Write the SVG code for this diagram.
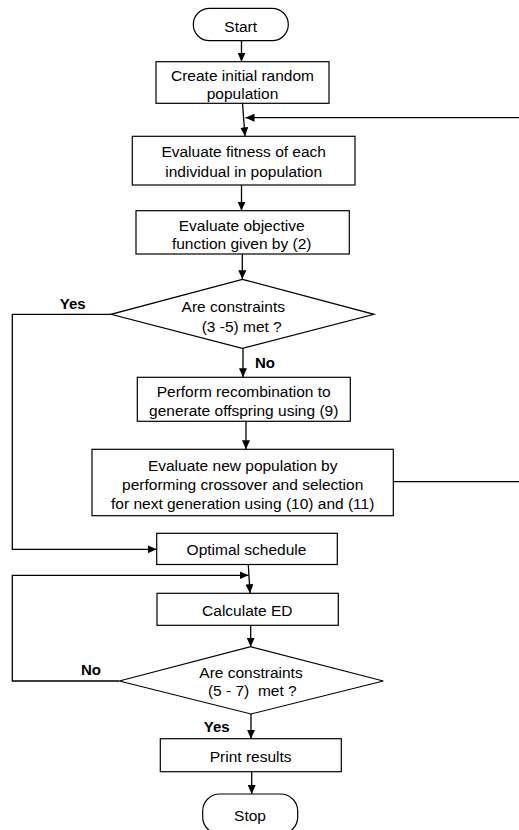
<svg xmlns="http://www.w3.org/2000/svg" width="519" height="830" viewBox="0 0 519 830">
<defs>
<style>
.box{fill:#fff;stroke:#000;stroke-width:1.2}
.t{font-family:"Liberation Sans",Arial,sans-serif;font-size:15.5px;fill:#000;text-anchor:middle}
.lb{font-family:"Liberation Sans",Arial,sans-serif;font-size:15px;font-weight:bold;fill:#000;text-anchor:middle}
.c{fill:none;stroke:#000;stroke-width:1.3}
</style>
<marker id="ah" markerUnits="userSpaceOnUse" markerWidth="10" markerHeight="8" refX="9" refY="4" orient="auto">
<path d="M0,0 L9,4 L0,8 Z" fill="#000"/>
</marker>
</defs>
<rect width="519" height="830" fill="#fff"/>
<g id="connectors">
<line class="c" x1="241.5" y1="40.7" x2="241.5" y2="61.7" marker-end="url(#ah)"/>
<line class="c" x1="242.5" y1="103.3" x2="245" y2="136.3" marker-end="url(#ah)"/>
<path class="c" d="M393.3,481.7 H521 V117.7 H245.5" marker-end="url(#ah)"/>
<line class="c" x1="241.5" y1="185" x2="241.5" y2="210.7" marker-end="url(#ah)"/>
<line class="c" x1="242.3" y1="254" x2="242.3" y2="279.3" marker-end="url(#ah)"/>
<line class="c" x1="243" y1="348.3" x2="243" y2="377.3" marker-end="url(#ah)"/>
<path class="c" d="M111,314.3 H12.3 V549.3 H156.7" marker-end="url(#ah)"/>
<line class="c" x1="246" y1="421.3" x2="246" y2="449.3" marker-end="url(#ah)"/>
<line class="c" x1="248.3" y1="564.5" x2="250" y2="593.3" marker-end="url(#ah)"/>
<path class="c" d="M119.3,681 H12.3 V575.3 H248.5" marker-end="url(#ah)"/>
<line class="c" x1="250.7" y1="625.3" x2="250.7" y2="646.7" marker-end="url(#ah)"/>
<line class="c" x1="251" y1="714" x2="251" y2="738.7" marker-end="url(#ah)"/>
<line class="c" x1="251.7" y1="771.7" x2="251.7" y2="794" marker-end="url(#ah)"/>
</g>
<g id="start">
<rect class="box" x="193.3" y="8.3" width="95" height="32.4" rx="16.2" ry="16.2"/>
<text class="t" x="240.7" y="31.5">Start</text>
</g>
<g id="create">
<rect class="box" x="156" y="61.7" width="173" height="41.6"/>
<text class="t" x="242.5" y="80.5">Create initial random</text>
<text class="t" x="242.5" y="98.8">population</text>
</g>
<g id="fitness">
<rect class="box" x="132.3" y="136.3" width="222.7" height="48.7"/>
<text class="t" x="243.7" y="157.2">Evaluate fitness of each</text>
<text class="t" x="243.7" y="176.5">individual in population</text>
</g>
<g id="objective">
<rect class="box" x="136" y="210.7" width="213.3" height="43.3"/>
<text class="t" x="241.7" y="230.5">Evaluate objective</text>
<text class="t" x="241.7" y="248.8">function given by (2)</text>
</g>
<g id="decision1">
<polygon class="box" points="242.3,279.3 374,314.3 242.3,348.3 111,314.3"/>
<text class="t" x="233.3" y="312.2">Are constraints</text>
<text class="t" x="241.7" y="331.5">(3 -5) met ?</text>
</g>
<g id="labels1">
<text class="lb" x="72.7" y="308.8">Yes</text>
<text class="lb" x="265" y="368.2">No</text>
</g>
<g id="recombination">
<rect class="box" x="137.3" y="377.3" width="213" height="44"/>
<text class="t" x="243.7" y="397.2">Perform recombination to</text>
<text class="t" x="243.7" y="416.2">generate offspring using (9)</text>
</g>
<g id="newpop">
<rect class="box" x="92" y="449.3" width="301.3" height="66.4"/>
<text class="t" x="242.7" y="470.5">Evaluate new population by</text>
<text class="t" x="242.7" y="489.5">performing crossover and selection</text>
<text class="t" x="242.7" y="508.8">for next generation using (10) and (11)</text>
</g>
<g id="optimal">
<rect class="box" x="156.7" y="533.3" width="180.6" height="31.2"/>
<text class="t" x="246.5" y="554.5">Optimal schedule</text>
</g>
<g id="calced">
<rect class="box" x="157" y="593.3" width="181.3" height="32"/>
<text class="t" x="247.3" y="615.5">Calculate ED</text>
</g>
<g id="decision2">
<polygon class="box" points="250.7,646.7 383.3,681 251,714 119.3,681"/>
<text class="t" x="251" y="677.8">Are constraints</text>
<text class="t" x="252.3" y="695.5" xml:space="preserve">(5 - 7)  met ?</text>
</g>
<g id="labels2">
<text class="lb" x="91" y="674.5">No</text>
<text class="lb" x="216.7" y="732.2">Yes</text>
</g>
<g id="print">
<rect class="box" x="160.3" y="738.7" width="181" height="33"/>
<text class="t" x="250.7" y="761.5">Print results</text>
</g>
<g id="stop">
<rect class="box" x="202.7" y="794" width="95" height="40" rx="17" ry="17"/>
<text class="t" x="250" y="820.5">Stop</text>
</g>
</svg>
